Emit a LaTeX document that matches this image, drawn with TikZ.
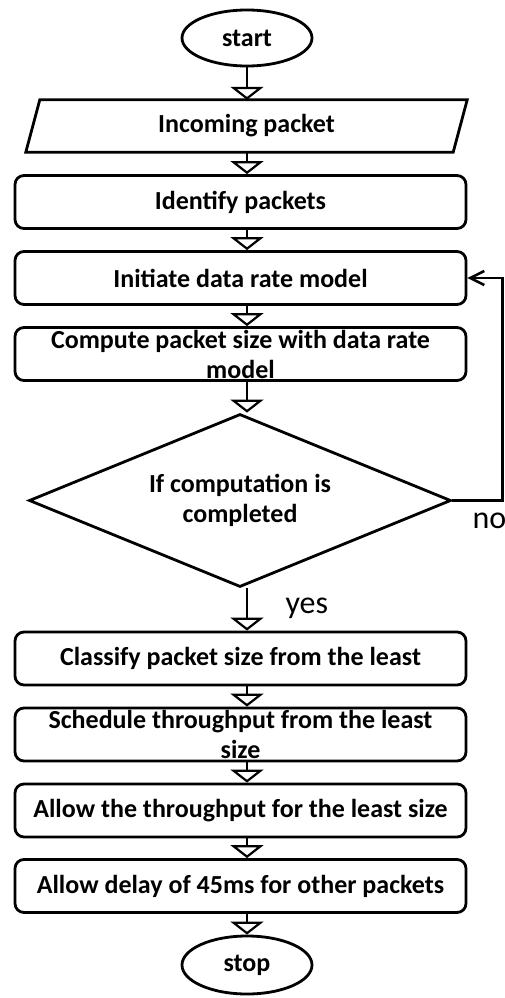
\documentclass[tikz,border=0pt]{standalone}
\usepackage{fontspec}
\setmainfont{Carlito}
\usetikzlibrary{shapes.geometric,arrows.meta,calc}
\begin{document}
\begin{tikzpicture}[x=1pt,y=-1pt,
  every node/.style={font=\fontsize{26}{30}\selectfont\bfseries, align=center},
  terminal/.style={ellipse, draw, line width=2.8pt, inner sep=0pt,
    minimum width=130pt, minimum height=56pt},
  procbox/.style={rectangle, rounded corners=9pt, draw, line width=2.8pt,
    minimum width=451pt, minimum height=53pt, inner sep=0pt},
  iobox/.style={rectangle, inner sep=0pt, minimum width=427pt, minimum height=52pt},
  decision/.style={diamond, draw, line width=2.8pt, inner sep=0pt, aspect=2.4,
    minimum width=422pt, minimum height=173pt},
  flow/.style={line width=2.8pt, -{Triangle[open, width=33pt, length=13pt, line width=2.2pt]}},
  loopback/.style={line width=2.6pt, -{Straight Barb[width=14pt, length=14pt, line width=2.6pt]}},
  branch/.style={font=\fontsize{32}{36}\selectfont}
]
\useasboundingbox (0,0) rectangle (505,998);

% terminals and steps
\node[terminal] (start) at (247,38) {start};
\node[iobox] (inc) at (246.5,126) {Incoming packet};
\draw[line width=2.8pt]
  ($(inc.north west)+(7,0)$) -- ($(inc.north east)+(7,0)$) --
  ($(inc.south east)+(-7,0)$) -- ($(inc.south west)+(-7,0)$) -- cycle;
\node[procbox] (idb) at (240.5,202) {Identify packets};
\node[procbox] (init) at (240.5,278) {Initiate data rate model};
\node[procbox] (comp) at (240.5,354) {Compute packet size with data rate\\model};
\node[decision] (dia) at (240,500.5) {If computation is\\completed};
\node[procbox] (cls) at (240.5,658.5) {Classify packet size from the least};
\node[procbox] (sch) at (240.5,734.5) {Schedule throughput from the least\\size};
\node[procbox] (thr) at (240.5,810.5) {Allow the throughput for the least size};
\node[procbox] (del) at (240.5,886) {Allow delay of 45ms for other packets};
\node[terminal, minimum height=58pt] (stop) at (247,965) {stop};

% main flow, along the vertical through the terminals
\draw[flow] (start.south) -- (start.south |- inc.north);
\draw[flow] (start.south |- inc.south) -- (start.south |- idb.north);
\draw[flow] (start.south |- idb.south) -- (start.south |- init.north);
\draw[flow] (start.south |- init.south) -- (start.south |- comp.north);
\draw[flow] (start.south |- comp.south) -- (start.south |- dia.north);
\draw[flow] (start.south |- dia.south) -- (start.south |- cls.north);
\draw[flow] (start.south |- cls.south) -- (start.south |- sch.north);
\draw[flow] (start.south |- sch.south) -- (start.south |- thr.north);
\draw[flow] (start.south |- thr.south) -- (start.south |- del.north);
\draw[flow] (start.south |- del.south) -- (stop.north);

% loop back when the computation is not completed
\coordinate (bend) at (502.5,500);
\draw[loopback] (dia.east) -- (dia.east -| bend) |- (init.east);

% branch labels
\node[branch, anchor=base west] (nolabel) at (469,528) {no};
\node[branch, anchor=base west] (yeslabel) at (282,613) {yes};
\end{tikzpicture}
\end{document}
